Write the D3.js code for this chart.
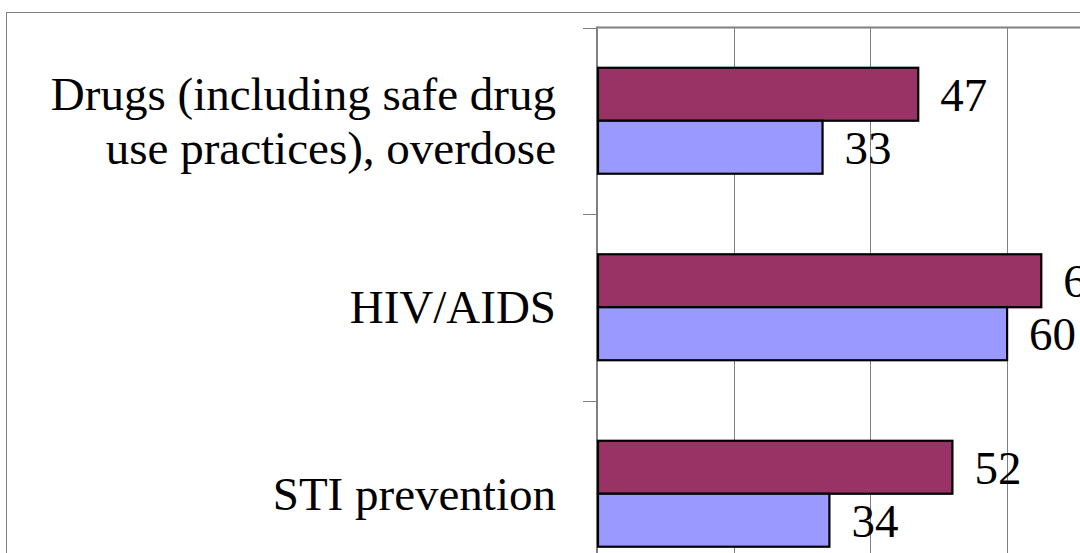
<!DOCTYPE html>
<html>
<head>
<meta charset="utf-8">
<script src="https://cdn.jsdelivr.net/npm/d3@7"></script>
<style>
  html, body { margin: 0; padding: 0; background: #fff; overflow: hidden; }
  svg { display: block; }
</style>
</head>
<body>
<svg id="chart" width="1080" height="553"></svg>
<script>
// ---- data ----
const categories = ["Drugs (including safe drug\nuse practices), overdose", "HIV/AIDS", "STI prevention"];
const seriesNames = ["Series 1", "Series 2"];
const series1Values = [47, 65, 52];
const series2Values = [33, 60, 34];
const xTickValues = [0, 20, 40, 60, 80, 100];

// ---- layout ----
const W = 1080, H = 553;
const plot = { left: 597, top: 27.5, right: 1280.5, bottom: 587 };
const colors = ["#993366", "#9999FF"];
const font = "'Liberation Serif', 'Times New Roman', serif";

const svg = d3.select("#chart");

// outer frame
svg.append("rect").attr("x", 6.5).attr("y", 12.5).attr("width", W + 20).attr("height", H + 20)
  .attr("fill", "none").attr("stroke", "#808080").attr("stroke-width", 1);

const x = d3.scaleLinear().domain([0, 100]).range([plot.left, plot.right]);
const y = d3.scaleBand().domain(categories).range([plot.top, plot.bottom]).paddingInner(0).paddingOuter(0);
const inner = d3.scaleBand().domain(seriesNames).range([0, y.bandwidth()]).paddingOuter(0.76).paddingInner(0);

// gridlines
svg.append("g").selectAll("line").data(xTickValues.slice(1)).join("line")
  .attr("x1", d => Math.round(x(d)) + 0.5).attr("x2", d => Math.round(x(d)) + 0.5)
  .attr("y1", plot.top).attr("y2", plot.bottom)
  .attr("stroke", "#808080").attr("stroke-width", 1);

// top border of plot
svg.append("line").attr("x1", plot.left).attr("x2", W + 10)
  .attr("y1", plot.top).attr("y2", plot.top)
  .attr("stroke", "#808080").attr("stroke-width", 2);

// y axis (category boundaries as ticks)
const boundaries = categories.map(c => y(c)).concat([plot.bottom]);
svg.append("g").selectAll("line").data(boundaries).join("line")
  .attr("x1", plot.left - 14).attr("x2", plot.left)
  .attr("y1", d => Math.round(d) + 0.5).attr("y2", d => Math.round(d) + 0.5)
  .attr("stroke", "#808080").attr("stroke-width", 1);
svg.append("line").attr("x1", plot.left).attr("x2", plot.left)
  .attr("y1", plot.top - 1).attr("y2", plot.bottom)
  .attr("stroke", "#808080").attr("stroke-width", 2);

// bars
const rows = categories.map((c, i) => ({ cat: c, vals: [series1Values[i], series2Values[i]] }));
const groups = svg.append("g").selectAll("g").data(rows).join("g")
  .attr("transform", d => `translate(0,${y(d.cat)})`);

groups.selectAll("rect").data(d => d.vals.map((v, j) => ({ v, s: seriesNames[j], j }))).join("rect")
  .attr("x", x(0) + 1)
  .attr("y", d => inner(d.s))
  .attr("width", d => x(d.v) - x(0) - 1)
  .attr("height", inner.bandwidth())
  .attr("fill", d => colors[d.j])
  .attr("stroke", "#000").attr("stroke-width", 2.2);

// value labels
groups.selectAll("text").data(d => d.vals.map((v, j) => ({ v, s: seriesNames[j], j }))).join("text")
  .attr("x", d => x(d.v) + 22)
  .attr("y", d => inner(d.s) + inner.bandwidth() / 2 + 16.5)
  .attr("font-family", font).attr("font-size", 47).attr("fill", "#000")
  .text(d => d.v);

// category labels
const labels = svg.append("g").selectAll("text").data(categories).join("text")
  .attr("text-anchor", "end")
  .attr("font-family", font).attr("font-size", 47).attr("fill", "#000")
  .attr("transform", d => `translate(556,${y(d) + y.bandwidth() / 2})`);
labels.each(function(d) {
  const lines = d.split("\n");
  const lh = 54;
  const t = d3.select(this);
  lines.forEach((ln, k) => {
    t.append("tspan").attr("x", 0)
      .attr("y", (k - (lines.length - 1) / 2) * lh + 16)
      .text(ln);
  });
});
</script>
</body>
</html>
